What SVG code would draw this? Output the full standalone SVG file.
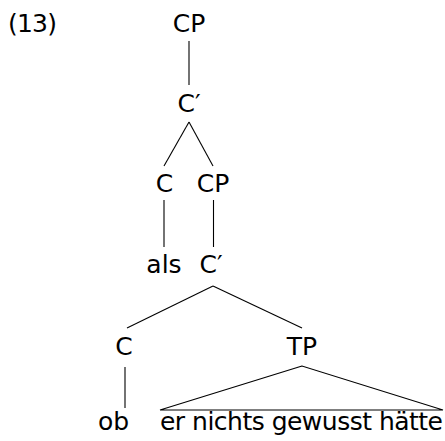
<svg xmlns="http://www.w3.org/2000/svg" width="445" height="441" viewBox="0 0 445 441">
<style>
text{font-family:"DejaVu Sans","Liberation Sans",sans-serif;font-size:25px;fill:#000;text-anchor:middle}
.e line,.e path{stroke:#000;stroke-width:1.1;fill:none}
</style>
<rect width="445" height="441" fill="#fff"/>
<text x="8" y="32" style="text-anchor:start" textLength="49">(13)</text>
<g class="e" id="connectors">
<line x1="189" y1="41" x2="189" y2="85"/>
<line x1="189" y1="122" x2="164" y2="166"/>
<line x1="189" y1="122" x2="213" y2="166"/>
<line x1="164" y1="200" x2="164" y2="247"/>
<line x1="213.5" y1="200" x2="213.5" y2="247"/>
<line x1="213" y1="286" x2="127" y2="328"/>
<line x1="213" y1="286" x2="302" y2="328"/>
<line x1="125" y1="367" x2="125" y2="408"/>
<path d="M302 366 L160 410 L443 410 Z"/>
</g>
<g id="n-cp"><text x="189" y="32">CP</text></g>
<g id="n-cbar"><text x="189" y="112">C′</text></g>
<g id="n-c1"><text x="164.5" y="192">C</text></g>
<g id="n-cp2"><text x="213" y="192">CP</text></g>
<g id="n-als"><text x="164" y="273">als</text></g>
<g id="n-cbar2"><text x="211" y="273">C′</text></g>
<g id="n-c2"><text x="124" y="355">C</text></g>
<g id="n-tp"><text x="302" y="355">TP</text></g>
<g id="n-ob"><text x="113.5" y="430">ob</text></g>
<g id="n-phrase"><text x="160" y="430" style="text-anchor:start" textLength="283">er nichts gewusst hätte</text></g>
</svg>
